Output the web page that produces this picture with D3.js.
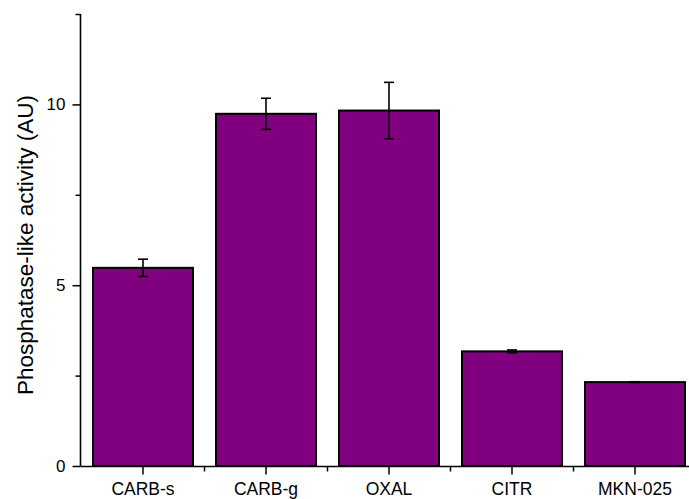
<!DOCTYPE html>
<html><head><meta charset="utf-8">
<script src="https://cdn.jsdelivr.net/npm/d3@7"></script>
<style>body{margin:0;background:#fff}svg{display:block}text{font-family:"Liberation Sans",Arial,sans-serif}</style>
</head><body><svg id="c" width="689" height="499"></svg>
<script>
const categories = ["CARB-s","CARB-g","OXAL","CITR","MKN-025"];
const values = [5.48, 9.74, 9.83, 3.17, 2.32];
const errors = [0.24, 0.43, 0.78, 0.04, 0.01];
const yMajorTicks = [0, 5, 10];
const yMinorTicks = [2.5, 7.5, 12.5];
const yLabel = "Phosphatase-like activity (AU)";

const FONT = '"Liberation Sans",Arial,sans-serif';
const svg = d3.select("#c");
const x = d3.scaleBand().domain(categories).range([81.5, 696.5]).paddingInner(0.187).paddingOuter(0.0935);
const y = d3.scaleLinear().domain([0, 12.5]).range([466, 14]);
const axX = 80.5;

// bars
svg.append("g").selectAll("rect").data(categories).join("rect")
  .attr("x", d => x(d)).attr("y", (d,i) => y(values[i]))
  .attr("width", x.bandwidth()).attr("height", (d,i) => y(0) - y(values[i]))
  .attr("fill", "#800080").attr("stroke", "#000").attr("stroke-width", 2);

// error bars
const eg = svg.append("g").attr("stroke", "#000").attr("stroke-width", 1.6);
categories.forEach((c,i) => {
  const cx = x(c) + x.bandwidth()/2;
  const t = y(values[i] + errors[i]), b = y(values[i] - errors[i]);
  eg.append("line").attr("x1", cx).attr("x2", cx).attr("y1", t).attr("y2", b);
  eg.append("line").attr("x1", cx-5).attr("x2", cx+5).attr("y1", t).attr("y2", t);
  eg.append("line").attr("x1", cx-5).attr("x2", cx+5).attr("y1", b).attr("y2", b);
});

// y axis
const yAx = svg.append("g").attr("transform", `translate(${axX},0)`)
  .call(d3.axisLeft(y).tickValues(yMajorTicks).tickSize(8).tickPadding(7).tickFormat(d3.format("d")));
yAx.select(".domain").remove();
yAx.selectAll("text").attr("font-size", 17).attr("font-family", FONT).attr("fill", "#000");
yAx.selectAll("line").attr("stroke-width", 1.5);
const yMin = svg.append("g").attr("transform", `translate(${axX},0)`)
  .call(d3.axisLeft(y).tickValues(yMinorTicks).tickSize(5).tickFormat(""));
yMin.select(".domain").remove();
yMin.selectAll("line").attr("stroke-width", 1.5);
svg.append("line").attr("x1", axX).attr("x2", axX).attr("y1", y(0)).attr("y2", y(12.5)).attr("stroke", "#000").attr("stroke-width", 1.6);

// x axis
const xAxY = y(0) + 0.5;
const xAx = svg.append("g").attr("transform", `translate(0,${xAxY})`)
  .call(d3.axisBottom(x).tickSize(8).tickPadding(8));
xAx.select(".domain").remove();
xAx.selectAll("text").attr("font-size", 17.5).attr("font-family", FONT).attr("fill", "#000");
xAx.selectAll("line").attr("stroke-width", 1.5);
const bounds = categories.slice(1).map(c => x(c) - x.step()*x.paddingInner()/2);
svg.append("g").selectAll("line").data(bounds).join("line")
  .attr("x1", d => d).attr("x2", d => d).attr("y1", xAxY).attr("y2", xAxY + 5)
  .attr("stroke", "#000").attr("stroke-width", 1.5);
svg.append("line").attr("x1", axX).attr("x2", 689).attr("y1", xAxY).attr("y2", xAxY).attr("stroke", "#000").attr("stroke-width", 1.6);

// y label
svg.append("text").attr("transform", `translate(33,245) rotate(-90)`)
  .attr("text-anchor", "middle").attr("font-size", 22.5).attr("fill", "#000").text(yLabel);
</script></body></html>
